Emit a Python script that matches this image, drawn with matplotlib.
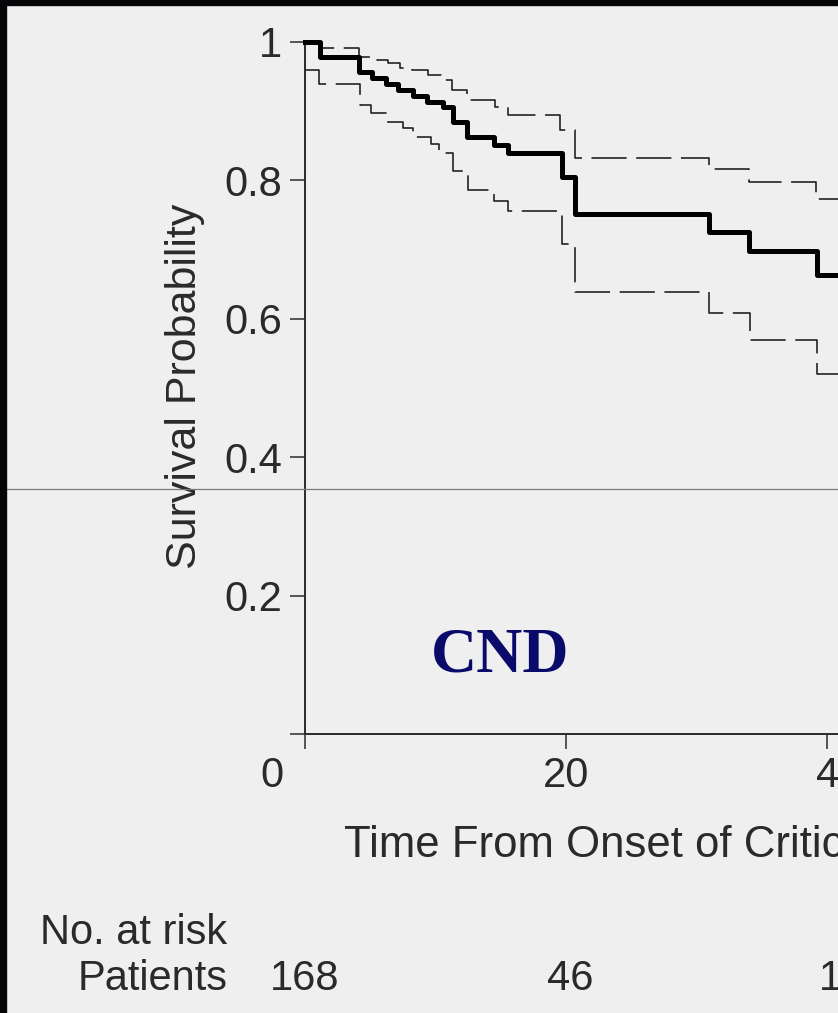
import matplotlib
matplotlib.use("Agg")
import matplotlib.pyplot as plt
import matplotlib.transforms as mtransforms
from matplotlib.lines import Line2D
from matplotlib.patches import Rectangle

# Kaplan-Meier estimate (days, probability)
time_main = [0, 1.15, 4.16, 5.11, 6.21, 7.15, 8.30, 9.33, 10.60, 11.36, 12.44,
             14.48, 15.58, 19.67, 20.69, 30.96, 34.05, 39.26]
surv_main = [1.0, 0.978, 0.956, 0.9475, 0.939, 0.931, 0.922, 0.914, 0.906, 0.885,
             0.863, 0.851, 0.839, 0.805, 0.751, 0.726, 0.698, 0.663]

# 95% CI bounds
time_upper = [0, 1.15, 4.16, 5.49, 6.33, 7.28, 8.18, 9.45, 10.40, 11.24, 12.44,
              14.56, 15.58, 19.54, 20.69, 30.96, 34.05, 39.15]
ci_upper = [1.0, 0.992, 0.978, 0.974, 0.969, 0.962, 0.959, 0.952, 0.945, 0.931,
            0.916, 0.9065, 0.8945, 0.873, 0.832, 0.816, 0.797, 0.773]

time_lower = [0, 1.10, 4.21, 5.03, 6.26, 7.51, 8.30, 9.64, 10.29, 11.36, 12.52,
              14.48, 15.54, 19.67, 20.69, 30.96, 34.10, 39.23]
ci_lower = [0.960, 0.940, 0.909, 0.897, 0.885, 0.875, 0.863, 0.853, 0.839, 0.814,
            0.786, 0.770, 0.756, 0.708, 0.639, 0.609, 0.569, 0.520]

x_ticks = [0, 20, 40]
x_tick_labels = ["0", "20", "40"]
y_ticks = [0, 0.2, 0.4, 0.6, 0.8, 1.0]
y_tick_labels = ["", "0.2", "0.4", "0.6", "0.8", "1"]

risk_times = [0, 20, 40]
risk_counts = ["168", "46", "16"]

plt.rcParams["font.family"] = ["Liberation Sans", "DejaVu Sans"]
TXT = "#2a2a2a"
BG = "#efefef"

W, H = 838, 1013
fig = plt.figure(figsize=(W / 100, H / 100), dpi=100, facecolor=BG)

x_max = 60
px_per_day = 13.05
ax_top, ax_bottom, ax_left = 42, 734, 305
ax = fig.add_axes([ax_left / W, 1 - ax_bottom / H,
                   x_max * px_per_day / W, (ax_bottom - ax_top) / H])
ax.set_facecolor(BG)
ax.set_xlim(0, x_max)
ax.set_ylim(0, 1)

for s in ["top", "right"]:
    ax.spines[s].set_visible(False)
for s in ["left", "bottom"]:
    ax.spines[s].set_color("#2a2a2a")
    ax.spines[s].set_linewidth(1.4)

ax.set_xticks(x_ticks, x_tick_labels)
ax.set_yticks(y_ticks, y_tick_labels)
ax.tick_params(axis="both", direction="out", length=10.5, width=1.1,
               color="#2a2a2a", labelsize=30, labelcolor=TXT)
ax.tick_params(axis="x", pad=5)
ax.tick_params(axis="y", pad=6)

# the 0 and 40 labels sit off their ticks in the original
for lab, dx in zip(ax.get_xticklabels(), [-33, 0, 12]):
    lab.set_transform(lab.get_transform() +
                      mtransforms.ScaledTranslation(dx / 100, 0, fig.dpi_scale_trans))

dash = (0, (22, 6))
ax.step(time_upper + [x_max], ci_upper + [ci_upper[-1]], where="post",
        color="#1a1a1a", lw=1.15, ls=dash, clip_on=False)
ax.step(time_lower + [x_max], ci_lower + [ci_lower[-1]], where="post",
        color="#1a1a1a", lw=1.15, ls=dash, clip_on=False)
ax.step(time_main + [x_max], surv_main + [surv_main[-1]], where="post",
        color="black", lw=3.6, clip_on=False, zorder=5)

fig.text(185 / W, 1 - 386 / H, "Survival Probability", rotation=90,
         ha="center", va="center", fontsize=31, color=TXT)
fig.text(344 / W, 1 - 856 / H, "Time From Onset of Critical Illness, d",
         ha="left", va="baseline", fontsize=31.5, color=TXT)

fig.text(500 / W, 1 - 672 / H, "CND", family="Liberation Serif", weight="bold",
         fontsize=46, color="#0a0a6a", ha="center", va="baseline")

# number at risk table
fig.text(40 / W, 1 - 944 / H, "No. at risk", ha="left", va="baseline",
         fontsize=30, color=TXT)
fig.text(78 / W, 1 - 990 / H, "Patients", ha="left", va="baseline",
         fontsize=30, color=TXT)
risk_trans = mtransforms.blended_transform_factory(ax.transData, fig.transFigure)
for t, n, dx in zip(risk_times, risk_counts, [0, 4, 15]):
    tr = risk_trans + mtransforms.ScaledTranslation(dx / 100, 0, fig.dpi_scale_trans)
    fig.text(t, 1 - 990 / H, n, transform=tr, ha="center", va="baseline",
             fontsize=30, color=TXT)

# slide artefacts: thin grey rule and black frame edges
fig.add_artist(Line2D([6 / W, 1], [1 - 489 / H, 1 - 489 / H], transform=fig.transFigure,
                      color="#7a7a7a", lw=0.9, zorder=10))
fig.add_artist(Rectangle((0, 1 - 5 / H), 1, 5 / H, transform=fig.transFigure,
                         color="#050508", zorder=11))
fig.add_artist(Rectangle((0, 0), 6 / W, 1, transform=fig.transFigure,
                         color="#050508", zorder=11))

fig.savefig("out.png", dpi=100, facecolor=BG)
